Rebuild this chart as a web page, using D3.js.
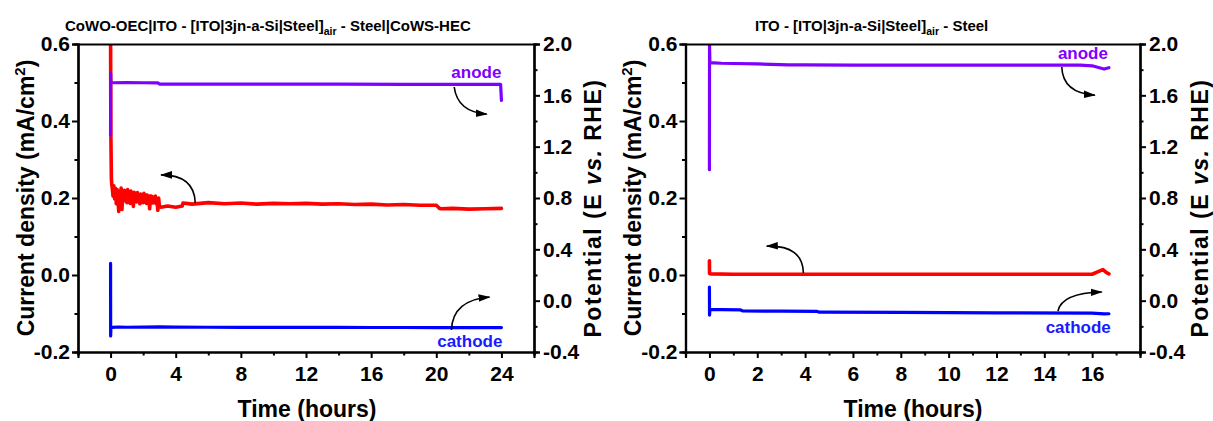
<!DOCTYPE html>
<html>
<head>
<meta charset="utf-8">
<script src="https://cdn.jsdelivr.net/npm/d3@7"></script>
<style>
  html, body { margin: 0; padding: 0; background: #fff; }
  svg { display: block; }
  text { font-family: Arial, "Liberation Sans", sans-serif; font-weight: bold; fill: #000; }
</style>
</head>
<body>
<svg id="chart" width="1213" height="421"></svg>
<script>
// ---------------- DATA ----------------
const titleLeft = ["CoWO-OEC|ITO - [ITO|3jn-a-Si|Steel]", "air", " - Steel|CoWS-HEC"];
const titleRight = ["ITO - [ITO|3jn-a-Si|Steel]", "air", " - Steel"];

const xTicksLeft = [0, 4, 8, 12, 16, 20, 24];
const xMinorLeft = [-2, 2, 6, 10, 14, 18, 22, 26];
const xTicksRight = [0, 2, 4, 6, 8, 10, 12, 14, 16];
const xMinorRight = [-1, 1, 3, 5, 7, 9, 11, 13, 15, 17, 18];

const currentTicks = [-0.2, 0.0, 0.2, 0.4, 0.6];
const currentTickLabels = ["-0.2", "0.0", "0.2", "0.4", "0.6"];
const currentMinor = [-0.1, 0.1, 0.3, 0.5];
const potentialTicks = [-0.4, 0.0, 0.4, 0.8, 1.2, 1.6, 2.0];
const potentialTickLabels = ["-0.4", "0.0", "0.4", "0.8", "1.2", "1.6", "2.0"];
const potentialMinor = [-0.2, 0.2, 0.6, 1.0, 1.4, 1.8];

// Left panel (24 h): current density (left axis)
const leftCurrentTime = [0, 0.02, 0.05, 0.08,
  0.10, 0.15, 0.20, 0.25, 0.30, 0.35, 0.40, 0.45, 0.50, 0.55, 0.60, 0.65, 0.70, 0.75, 0.80, 0.85, 0.90, 0.95,
  1.00, 1.05, 1.10, 1.15, 1.20, 1.25, 1.30, 1.35, 1.40, 1.45, 1.50, 1.55, 1.60, 1.65, 1.70, 1.75, 1.80, 1.85, 1.90, 1.95,
  2.00, 2.05, 2.10, 2.15, 2.20, 2.25, 2.30, 2.35, 2.40, 2.45, 2.50, 2.55, 2.60, 2.65, 2.70, 2.75, 2.80, 2.85, 2.90, 2.95, 3.00,
  3.1, 3.5, 4.0, 4.4, 4.45, 5, 6, 7, 8, 9, 10, 11, 12, 13, 14, 15, 16, 17, 18, 19, 20, 20.2, 20.3, 21, 22, 23, 24];
const leftCurrent = [0.62, 0.36, 0.25, 0.232,
  0.228, 0.205, 0.232, 0.198, 0.225, 0.185, 0.222, 0.2, 0.165, 0.218, 0.195, 0.226, 0.17, 0.215, 0.192, 0.22, 0.198, 0.214,
  0.188, 0.222, 0.196, 0.212, 0.186, 0.218, 0.2, 0.21, 0.178, 0.215, 0.194, 0.208, 0.19, 0.214, 0.196, 0.207, 0.185, 0.21, 0.193, 0.205,
  0.188, 0.212, 0.192, 0.204, 0.186, 0.208, 0.195, 0.203, 0.172, 0.206, 0.19, 0.204, 0.187, 0.2, 0.191, 0.205, 0.185, 0.198, 0.168, 0.2, 0.178,
  0.176, 0.179, 0.176, 0.179, 0.187, 0.184, 0.188, 0.185, 0.187, 0.184, 0.186, 0.185, 0.186, 0.184, 0.185, 0.183, 0.184, 0.182, 0.183, 0.181, 0.181, 0.173, 0.172, 0.173, 0.171, 0.172, 0.173];
// Left panel: anode potential (right axis)
const leftAnodeTime = [0, 0.005, 0.02, 0.1, 1, 2, 2.9, 3.0, 6, 10, 14, 18, 22, 23.95, 24.0];
const leftAnode = [1.29, 1.77, 1.70, 1.698, 1.699, 1.698, 1.697, 1.688, 1.687, 1.687, 1.687, 1.686, 1.686, 1.686, 1.56];
// Left panel: cathode potential (right axis)
const leftCathodeTime = [0, 0.005, 0.02, 0.1, 0.5, 1, 2, 3, 4, 6, 8, 10, 12, 14, 16, 18, 20, 22, 24];
const leftCathode = [0.29, -0.275, -0.21, -0.208, -0.205, -0.207, -0.206, -0.204, -0.206, -0.207, -0.208, -0.208, -0.208, -0.208, -0.209, -0.209, -0.21, -0.21, -0.21];

// Right panel (16.7 h)
const rightCurrentTime = [0, 0.005, 0.05, 1, 2, 4, 6, 8, 10, 12, 14, 16, 16.3, 16.45, 16.6, 16.7];
const rightCurrent = [0.037, 0.004, 0.003, 0.002, 0.002, 0.002, 0.002, 0.002, 0.002, 0.002, 0.002, 0.002, 0.01, 0.014, 0.006, 0.003];
const rightAnodeTime = [0, 0.005, 0.02, 0.2, 0.5, 1, 2, 3.3, 4, 6, 8, 10, 12, 14, 15.5, 16.0, 16.3, 16.5, 16.7];
const rightAnode = [1.02, 2.0, 1.855, 1.853, 1.85, 1.848, 1.845, 1.838, 1.837, 1.836, 1.836, 1.835, 1.836, 1.835, 1.836, 1.83, 1.815, 1.805, 1.815];
const rightCathodeTime = [0, 0.005, 0.02, 0.5, 1.3, 1.4, 3, 4.5, 4.6, 8, 12, 16, 16.5, 16.7];
const rightCathode = [0.106, -0.112, -0.068, -0.07, -0.072, -0.08, -0.082, -0.084, -0.09, -0.092, -0.095, -0.097, -0.103, -0.102];

// Annotation arrows: [time, value] on the given axis
const leftArrows = [
  { axis: "R", from: [21.1, 1.665], ctrl: [21.3, 1.47], to: [23.1, 1.454] },
  { axis: "L", from: [5.2, 0.187], ctrl: [5.15, 0.26], to: [3.1, 0.26] },
  { axis: "R", from: [20.93, -0.229], ctrl: [21.0, 0.005], to: [23.27, 0.028] }
];
const rightArrows = [
  { axis: "R", from: [14.73, 1.821], ctrl: [14.77, 1.618], to: [16.11, 1.602] },
  { axis: "L", from: [3.93, 0.005], ctrl: [3.9, 0.078], to: [2.4, 0.075] },
  { axis: "R", from: [14.57, -0.081], ctrl: [14.73, 0.059], to: [16.4, 0.067] }
];
const leftLabels = [
  { text: "anode", t: 24.0, v: 1.735, color: "#8000ff" },
  { text: "cathode", t: 24.06, v: -0.362, color: "#1a1aff" }
];
const rightLabels = [
  { text: "anode", t: 16.66, v: 1.883, color: "#8000ff" },
  { text: "cathode", t: 16.78, v: -0.253, color: "#1a1aff" }
];

// ---------------- DRAW ----------------
const svg = d3.select("#chart");
const RED = "#ff0000", PURPLE = "#8000ff", BLUE = "#0000ff";

const defs = svg.append("defs");
defs.append("marker").attr("id", "arrowhead")
  .attr("viewBox", "0 -5 12 10").attr("refX", 11).attr("refY", 0)
  .attr("markerUnits", "userSpaceOnUse").attr("markerWidth", 12).attr("markerHeight", 10)
  .attr("orient", "auto")
  .append("path").attr("d", "M0,-3.8L12,0L0,3.8Z").attr("fill", "#000");

function zip(ts, vs) { return ts.map((t, i) => [t, vs[i]]); }

function panel(cfg) {
  const top = 44, bottom = 352;
  const x = d3.scaleLinear().domain(cfg.xDomain).range([cfg.left, cfg.right]);
  const yL = d3.scaleLinear().domain([-0.2, 0.6]).range([bottom, top]);
  const yR = d3.scaleLinear().domain([-0.4, 2.0]).range([bottom, top]);
  const g = svg.append("g");

  const clipId = "clip" + cfg.id;
  defs.append("clipPath").attr("id", clipId).append("rect")
    .attr("x", cfg.left).attr("y", top).attr("width", cfg.right - cfg.left).attr("height", bottom - top);

  const plot = g.append("g").attr("clip-path", `url(#${clipId})`);
  const lineL = d3.line().x(d => x(d[0])).y(d => yL(d[1]));
  const lineR = d3.line().x(d => x(d[0])).y(d => yR(d[1]));
  const style = (p, c, w) => p.attr("fill", "none").attr("stroke", c).attr("stroke-width", w)
    .attr("stroke-linejoin", "round").attr("stroke-linecap", "round");

  style(plot.append("path").attr("d", lineL(zip(cfg.curT, cfg.cur))), RED, 3.6);
  style(plot.append("path").attr("d", lineR(zip(cfg.anT, cfg.an))), PURPLE, 3.2);
  style(plot.append("path").attr("d", lineR(zip(cfg.caT, cfg.ca))), BLUE, 3.2);

  // arrows
  cfg.arrows.forEach(a => {
    const y = a.axis === "L" ? yL : yR;
    const p = d3.path();
    p.moveTo(x(a.from[0]), y(a.from[1]));
    p.quadraticCurveTo(x(a.ctrl[0]), y(a.ctrl[1]), x(a.to[0]), y(a.to[1]));
    g.append("path").attr("d", p.toString()).attr("fill", "none").attr("stroke", "#000")
      .attr("stroke-width", 1.6).attr("marker-end", "url(#arrowhead)");
  });

  // labels
  cfg.labels.forEach(l => {
    g.append("text").attr("x", x(l.t)).attr("y", yR(l.v)).attr("text-anchor", "end")
      .style("font-size", "17px").style("fill", l.color).text(l.text);
  });

  // axes
  const axisStyle = sel => {
    sel.select(".domain").attr("stroke", "#000").attr("stroke-width", 2.2);
    sel.selectAll(".tick line").attr("stroke", "#000").attr("stroke-width", 2);
    sel.selectAll(".tick text").style("font-size", "21px").attr("fill", "#000");
  };
  // bottom
  g.append("g").attr("transform", `translate(0,${bottom})`)
    .call(d3.axisBottom(x).tickValues(cfg.xMinor).tickSize(3.5).tickFormat("")).call(axisStyle);
  g.append("g").attr("transform", `translate(0,${bottom})`)
    .call(d3.axisBottom(x).tickValues(cfg.xTicks).tickSize(6).tickPadding(8).tickFormat(d => String(d)))
    .call(axisStyle);
  // top
  g.append("g").attr("transform", `translate(0,${top})`)
    .call(d3.axisTop(x).tickValues([]).tickSizeOuter(0)).call(axisStyle);
  // left
  g.append("g").attr("transform", `translate(${cfg.left},0)`)
    .call(d3.axisLeft(yL).tickValues(currentMinor).tickSize(3.5).tickFormat("")).call(axisStyle);
  g.append("g").attr("transform", `translate(${cfg.left},0)`)
    .call(d3.axisLeft(yL).tickValues(currentTicks).tickSize(6).tickPadding(2)
      .tickFormat((d, i) => currentTickLabels[i])).call(axisStyle);
  // right
  g.append("g").attr("transform", `translate(${cfg.right},0)`)
    .call(d3.axisRight(yR).tickValues(potentialMinor).tickSize(3.5).tickFormat("")).call(axisStyle);
  g.append("g").attr("transform", `translate(${cfg.right},0)`)
    .call(d3.axisRight(yR).tickValues(potentialTicks).tickSize(6).tickPadding(3)
      .tickFormat((d, i) => potentialTickLabels[i])).call(axisStyle);

  // titles
  const t = g.append("text").attr("x", cfg.titleX).attr("y", 31).style("font-size", "15px");
  t.append("tspan").text(cfg.title[0]);
  t.append("tspan").attr("dy", 4).style("font-size", "10.5px").text(cfg.title[1]);
  t.append("tspan").attr("dy", -4).text(cfg.title[2]);

  g.append("text").attr("x", cfg.xTitleX).attr("y", 417).attr("text-anchor", "middle")
    .style("font-size", "23px").text("Time (hours)");

  const yt = g.append("text").attr("transform", `translate(${cfg.yTitleLX},${(top + bottom) / 2}) rotate(-90)`)
    .attr("text-anchor", "middle").style("font-size", "23px");
  yt.append("tspan").text("Current density (mA/cm");
  yt.append("tspan").attr("dy", -9).style("font-size", "15px").text("2");
  yt.append("tspan").attr("dy", 9).text(")");

  const yr = g.append("text").attr("transform", `translate(${cfg.yTitleRX},${(top + bottom) / 2 + 10}) rotate(-90)`)
    .attr("text-anchor", "middle").style("font-size", "23px").style("letter-spacing", "1.5px");
  yr.append("tspan").text("Potential (E ");
  yr.append("tspan").style("font-style", "italic").text("vs.");
  yr.append("tspan").text(" RHE)");
}

panel({
  id: "L", left: 78, right: 534, xDomain: [-2, 26],
  xTicks: xTicksLeft, xMinor: xMinorLeft,
  curT: leftCurrentTime, cur: leftCurrent, anT: leftAnodeTime, an: leftAnode, caT: leftCathodeTime, ca: leftCathode,
  arrows: leftArrows, labels: leftLabels, title: titleLeft, titleX: 65,
  xTitleX: 307, yTitleLX: 34, yTitleRX: 601
});
panel({
  id: "R", left: 685.5, right: 1140, xDomain: [-1, 18],
  xTicks: xTicksRight, xMinor: xMinorRight,
  curT: rightCurrentTime, cur: rightCurrent, anT: rightAnodeTime, an: rightAnode, caT: rightCathodeTime, ca: rightCathode,
  arrows: rightArrows, labels: rightLabels, title: titleRight, titleX: 755,
  xTitleX: 913, yTitleLX: 641, yTitleRX: 1208
});
</script>
</body>
</html>
